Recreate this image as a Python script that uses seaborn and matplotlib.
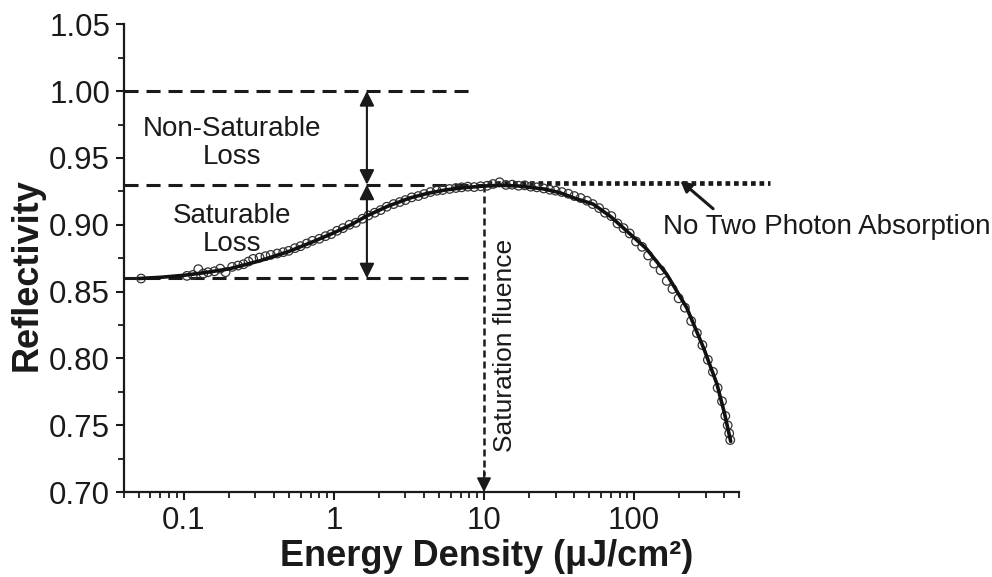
import matplotlib
matplotlib.use("Agg")
import matplotlib.pyplot as plt
import seaborn as sns
import numpy as np
import pandas as pd
from matplotlib.ticker import FixedLocator, MultipleLocator, FormatStrFormatter, LogLocator, NullFormatter

# ---------------- data ----------------
x_fit = [0.05, 0.07, 0.1, 0.14, 0.2, 0.32, 0.5, 0.7, 1.0, 1.3, 1.66, 2.3, 3.2, 4.2,
         5.5, 7, 10, 13, 17, 25, 32, 40, 53.5, 70, 89, 121, 165, 224, 290, 356, 400, 440]
y_fit = [0.8598, 0.8607, 0.8622, 0.8643, 0.867, 0.873, 0.880, 0.8866, 0.894, 0.900,
         0.9067, 0.914, 0.920, 0.9235, 0.926, 0.9275, 0.929, 0.9295, 0.929, 0.9268,
         0.924, 0.920, 0.9154, 0.906, 0.8955, 0.882, 0.863, 0.838, 0.808, 0.781, 0.759, 0.738]

x_data = [0.052, 0.105, 0.115, 0.125, 0.135, 0.145, 0.16, 0.175, 0.19, 0.21, 0.23, 0.25,
          0.27, 0.29, 0.32, 0.35, 0.38, 0.42, 0.46, 0.5, 0.55, 0.6, 0.66, 0.72, 0.8, 0.88,
          0.96, 1.05, 1.15, 1.27, 1.4, 1.55, 1.7, 1.87, 2.05, 2.25, 2.5, 2.75, 3.0, 3.3,
          3.65, 4.0, 4.4, 4.85, 5.3, 5.9, 6.5, 7.1, 7.8, 8.6, 9.5, 10.5, 11.5, 12.7, 14,
          15.4, 17, 18.7, 20.5, 22.5, 25, 27.5, 30, 33, 36.5, 40, 44, 48.5, 53, 58.5, 64,
          70.5, 77.5, 85, 93.5, 103, 113, 124, 136, 150, 165, 180, 198, 218, 240, 262, 285,
          310, 335, 360, 385, 405, 420, 430, 437]
y_data = [0.8598, 0.8618, 0.8625, 0.8668, 0.8635, 0.8645, 0.8652, 0.8672, 0.8645, 0.8685,
          0.8695, 0.8705, 0.8725, 0.8745, 0.8755, 0.8765, 0.8775, 0.8785, 0.8795, 0.8805,
          0.8825, 0.8840, 0.8860, 0.8880, 0.8895, 0.8915, 0.8930, 0.8955, 0.8975, 0.9000,
          0.9015, 0.9045, 0.9070, 0.9090, 0.9110, 0.9135, 0.9155, 0.9170, 0.9185, 0.9205,
          0.9215, 0.9230, 0.9245, 0.9255, 0.9260, 0.9268, 0.9275, 0.9280, 0.9285, 0.9282,
          0.9288, 0.9292, 0.9305, 0.9318, 0.9298, 0.9300, 0.9292, 0.9295, 0.9285, 0.9280,
          0.9272, 0.9262, 0.9255, 0.9245, 0.9232, 0.9215, 0.9200, 0.9180, 0.9155, 0.9125,
          0.9090, 0.9065, 0.9010, 0.8975, 0.8935, 0.8875, 0.8835, 0.8770, 0.8710, 0.8660,
          0.8580, 0.8520, 0.8450, 0.8380, 0.8280, 0.8190, 0.8100, 0.7990, 0.7900, 0.7780,
          0.7680, 0.7570, 0.7500, 0.7440, 0.7390]

y_ticks = [0.70, 0.75, 0.80, 0.85, 0.90, 0.95, 1.00, 1.05]
x_ticks = [0.1, 1, 10, 100]
x_tick_labels = ["0.1", "1", "10", "100"]

level_top = 1.00      # total reflectivity
level_sat = 0.93      # saturated reflectivity
level_base = 0.86     # low-fluence reflectivity
level_tpa = 0.931     # "no two photon absorption" line
sat_fluence = 10      # saturation fluence
arrow_x = 1.66        # position of the double arrows

# ---------------- styling ----------------
sns.set_theme(style="ticks")
plt.rcParams["font.family"] = ["Liberation Sans", "DejaVu Sans"]
ink = "#1a1a1a"

fig = plt.figure(figsize=(9.92, 5.77), dpi=100)
ax = fig.add_axes([0.125, 0.147, 0.62, 0.811])

df_fit = pd.DataFrame({"x": x_fit, "y": y_fit})
df_data = pd.DataFrame({"x": x_data, "y": y_data})

sns.scatterplot(data=df_data, x="x", y="y", ax=ax, marker="o", s=38,
                facecolor="none", edgecolor="#333333", linewidth=0.9, zorder=3)
sns.lineplot(data=df_fit, x="x", y="y", ax=ax, color="#111111", lw=2.6, zorder=4,
             sort=False, estimator=None)

ax.set_xscale("log")
ax.set_xlim(0.04, 500)
ax.set_ylim(0.70, 1.05)

# dashed reference lines
dash_long = (0, (4.6, 2.6))
ax.plot([0.04, 8.5], [level_top, level_top], color=ink, lw=2.2, ls=dash_long, zorder=2)
ax.plot([0.04, 8.5], [level_base, level_base], color=ink, lw=2.2, ls=dash_long, zorder=2)
ax.plot([0.04, 10], [level_sat, level_sat], color=ink, lw=2.2, ls=dash_long, zorder=2)
ax.plot([10.5, 800], [level_tpa, level_tpa], color=ink, lw=3.4, ls=(0, (1.0, 0.8)),
        zorder=2, clip_on=False, solid_capstyle="butt", dash_capstyle="butt")

# double arrows
arrow_kw = dict(arrowstyle="<|-|>", color=ink, lw=1.5, mutation_scale=22,
                shrinkA=0, shrinkB=0)
ax.annotate("", xy=(arrow_x, level_top), xytext=(arrow_x, level_sat), arrowprops=arrow_kw)
ax.annotate("", xy=(arrow_x, level_sat), xytext=(arrow_x, level_base), arrowprops=arrow_kw)

# saturation fluence arrow
ax.plot([sat_fluence, sat_fluence], [level_sat, 0.712], color=ink, lw=1.8,
        ls=(0, (2.8, 1.6)), zorder=2)
ax.annotate("", xy=(sat_fluence, 0.70), xytext=(sat_fluence, 0.716),
            arrowprops=dict(arrowstyle="-|>", color=ink, lw=1.2, mutation_scale=22,
                            shrinkA=0, shrinkB=0))

# TPA arrow
ax.annotate("", xy=(203, 0.933), xytext=(336, 0.912),
            arrowprops=dict(arrowstyle="-|>", color=ink, lw=2.2, mutation_scale=16,
                            shrinkA=0, shrinkB=0), annotation_clip=False)

# texts
ax.text(0.209, 0.961, "Non-Saturable\nLoss", ha="center", va="center",
        fontsize=20, color=ink, linespacing=1.1)
ax.text(0.209, 0.896, "Saturable\nLoss", ha="center", va="center",
        fontsize=20, color=ink, linespacing=1.1)
ax.text(13.8, 0.810, "Saturation fluence", ha="center", va="center", rotation=90,
        fontsize=19, color=ink)
ax.text(156, 0.898, "No Two Photon Absorption", ha="left", va="center",
        fontsize=20, color=ink, clip_on=False)

# axes & ticks
ax.yaxis.set_major_locator(FixedLocator(y_ticks))
ax.yaxis.set_minor_locator(MultipleLocator(0.025))
ax.yaxis.set_major_formatter(FormatStrFormatter("%.2f"))
ax.xaxis.set_major_locator(FixedLocator(x_ticks))
ax.set_xticklabels(x_tick_labels)
ax.xaxis.set_minor_locator(LogLocator(base=10, subs=np.arange(2, 10), numticks=20))
ax.xaxis.set_minor_formatter(NullFormatter())

for side in ["top", "right"]:
    ax.spines[side].set_visible(False)
for side in ["left", "bottom"]:
    ax.spines[side].set_linewidth(1.6)
    ax.spines[side].set_color(ink)

ax.tick_params(axis="both", which="major", direction="out", length=6, width=1.5,
               labelsize=22.5, colors=ink, pad=4)
ax.tick_params(axis="both", which="minor", direction="out", length=4, width=1.3, colors=ink)

ax.set_ylabel("Reflectivity", fontsize=26, fontweight="bold", color=ink)
ax.set_xlabel("Energy Density (μJ/cm²)", fontsize=26, fontweight="bold", color=ink)
ax.yaxis.set_label_coords(-0.129, 0.464)
ax.xaxis.set_label_coords(0.589, -0.1)

fig.savefig("out.png", dpi=100)
